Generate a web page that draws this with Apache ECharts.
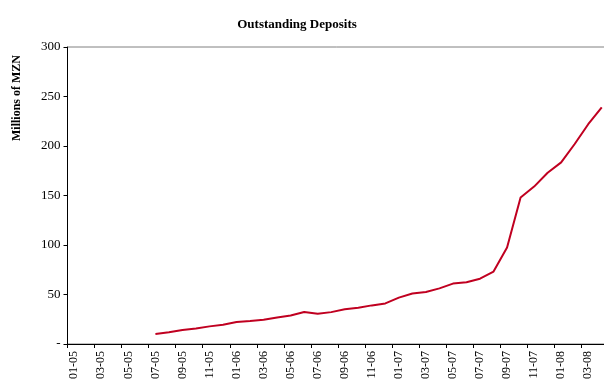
<!DOCTYPE html>
<html>
<head>
<meta charset="utf-8">
<script src="https://cdn.jsdelivr.net/npm/echarts@6/dist/echarts.min.js"></script>
<style>html,body{margin:0;padding:0;background:#fff;}#c{width:604px;height:388px;}</style>
</head>
<body>
<div id="c"></div>
<script>
const categories = ['01-05','02-05','03-05','04-05','05-05','06-05','07-05','08-05','09-05','10-05','11-05','12-05',
  '01-06','02-06','03-06','04-06','05-06','06-06','07-06','08-06','09-06','10-06','11-06','12-06',
  '01-07','02-07','03-07','04-07','05-07','06-07','07-07','08-07','09-07','10-07','11-07','12-07',
  '01-08','02-08','03-08','04-08'];
const deposits = [null,null,null,null,null,null,10.2,11.8,14.2,15.6,17.8,19.4,
  22.2,23.2,24.4,26.8,28.8,32.4,30.6,32.2,35,36.6,39,41,
  46.8,51,52.6,56.2,61,62.4,66,73.2,97.5,148,159,173,
  183.5,202,222,239];
const yTicks = [0,50,100,150,200,250,300];
const titleText = 'Outstanding Deposits';
const yTitle = 'Millions of MZN';

const chart = echarts.init(document.getElementById('c'), null, {renderer:'canvas'});
const serif = '"Liberation Serif","DejaVu Serif",serif';
chart.setOption({
  animation:false,
  backgroundColor:'#fff',
  title:{text:titleText, left:292, top:13, textAlign:'center',
    textStyle:{fontFamily:serif, fontWeight:'bold', fontSize:13, color:'#000'}},
  graphic:[{type:'text', x:17, y:98, rotation:Math.PI/2,
    style:{text:yTitle, fontFamily:serif, fontWeight:'bold', fontSize:12, fill:'#000',
      textAlign:'center', textVerticalAlign:'middle'}}],
  grid:{left:67.5, top:47, right:-4.5, bottom:44, outerBoundsMode:'none', containLabel:false,
    show:true, borderColor:'#808080', borderWidth:1, backgroundColor:'transparent'},
  xAxis:{type:'category', data:categories, boundaryGap:true,
    axisLine:{lineStyle:{color:'#000', width:1}},
    axisTick:{show:true, interval:1, length:4, lineStyle:{color:'#000'}},
    axisLabel:{interval:1, rotate:90, margin:7, fontFamily:serif, fontSize:12, color:'#000'},
    splitLine:{show:false}},
  yAxis:{type:'value', min:yTicks[0], max:yTicks[yTicks.length-1], interval:50,
    axisLine:{show:true, lineStyle:{color:'#000', width:1}},
    axisTick:{show:true, length:4, lineStyle:{color:'#000'}},
    axisLabel:{margin:7, fontFamily:serif, fontSize:13, color:'#000',
      formatter:v => v === 0 ? '-' : String(v)},
    splitLine:{show:false}},
  series:[{type:'line', data:deposits, showSymbol:false, symbol:'none',
    lineStyle:{color:'#C00020', width:2}, itemStyle:{color:'#C00020'}}]
});
</script>
</body>
</html>
